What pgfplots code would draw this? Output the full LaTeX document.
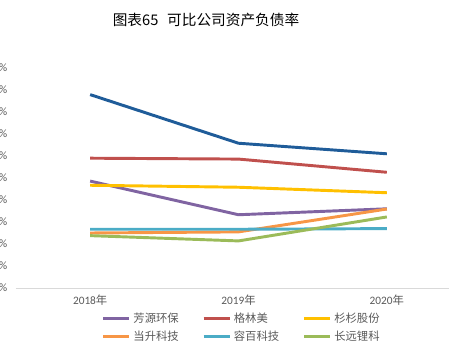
\documentclass[border=0pt]{standalone}
\usepackage{fontspec}
\usepackage{pgfplots}
\pgfplotsset{compat=1.18}
\setmainfont{Carlito}
\newfontfamily\cjk{Noto Sans CJK SC}
\definecolor{cpurple}{HTML}{8064A2}
\definecolor{cred}{HTML}{C0504D}
\definecolor{cyellow}{HTML}{FFC000}
\definecolor{corange}{HTML}{F79646}
\definecolor{ccyan}{HTML}{4BACC6}
\definecolor{cgreen}{HTML}{9BBB59}
\definecolor{cblue}{HTML}{1F5C99}
\definecolor{labgray}{HTML}{595959}
\begin{document}
\begin{tikzpicture}[x=0.75pt,y=0.75pt]
\useasboundingbox (0,0) rectangle (449,353);
\node[font=\cjk\fontsize{11}{13}\selectfont, anchor=center] at (206,333) {图表65\hspace{0.6em}可比公司资产负债率};
\begin{axis}[
  at={(12pt,48.75pt)}, anchor=south west,
  scale only axis, width=333.75pt, height=165pt,
  xmin=-0.5, xmax=2.5, ymin=0, ymax=100,
  axis x line=bottom, axis y line=left,
  x axis line style={-, draw=black!15, line width=0.75pt},
  y axis line style={draw=none},
  major tick length=0pt,
  xtick={0,1,2},
  xticklabels={2018{\cjk 年},2019{\cjk 年},2020{\cjk 年}},
  ytick={0,10,20,30,40,50,60,70,80,90,100},
  yticklabels={0\%,10\%,20\%,30\%,40\%,50\%,60\%,70\%,80\%,90\%,100\%},
  tick label style={font=\fontsize{8.5}{10}\selectfont, text=labgray},
  yticklabel style={xshift=-3pt},
  xticklabel style={yshift=-2pt},
  legend columns=3,
  legend cell align=left,
  legend image code/.code={\draw[#1,line width=2.2pt] (0pt,0pt) -- (19.5pt,0pt);},
  legend style={draw=none, fill=none, at={(0.508,-0.18)}, anchor=center,
    font=\cjk\fontsize{8.5}{10}\selectfont, text=labgray, row sep=1pt,
    /tikz/every even column/.append style={column sep=15.6pt}},
  every axis plot/.append style={line width=2.2pt, mark=none},
]
\addplot[color=cpurple] coordinates {(0,48.6) (1,33.3) (2,36.0)};
\addlegendentry{芳源环保}
\addplot[color=cred] coordinates {(0,59.0) (1,58.6) (2,52.6)};
\addlegendentry{格林美}
\addplot[color=cyellow] coordinates {(0,46.7) (1,45.8) (2,43.3)};
\addlegendentry{杉杉股份}
\addplot[color=corange] coordinates {(0,25.0) (1,25.5) (2,35.9)};
\addlegendentry{当升科技}
\addplot[color=ccyan] coordinates {(0,26.7) (1,26.7) (2,27.0)};
\addlegendentry{容百科技}
\addplot[color=cgreen] coordinates {(0,23.8) (1,21.4) (2,32.3)};
\addlegendentry{长远锂科}
\addplot[color=cblue, forget plot] coordinates {(0,87.9) (1,65.8) (2,61.0)};
\end{axis}
\end{tikzpicture}
\end{document}
